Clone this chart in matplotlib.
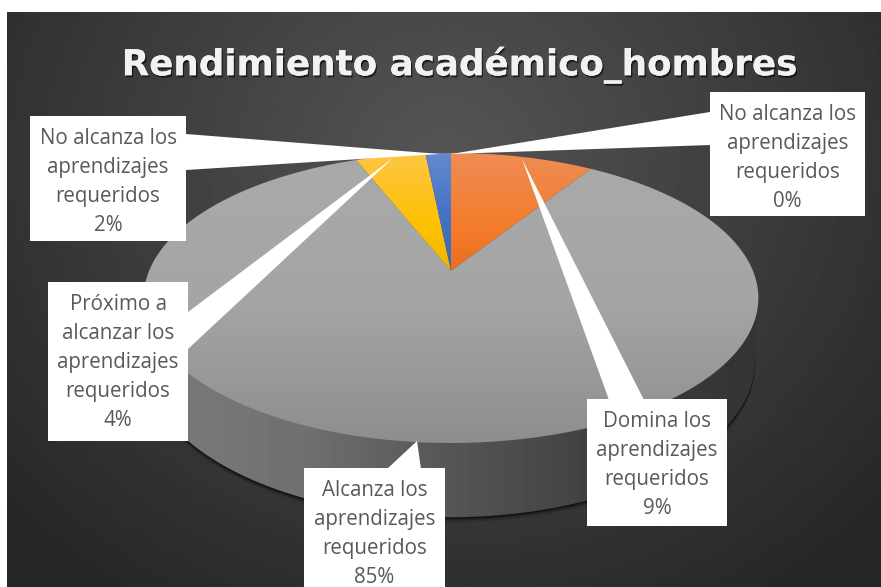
import matplotlib
matplotlib.use('Agg')
import matplotlib.pyplot as plt
import matplotlib.patheffects as pe
from matplotlib.colors import to_rgb
from matplotlib.patches import Polygon, Rectangle
from matplotlib.transforms import Affine2D
import numpy as np

plt.rcParams['font.family'] = ['Open Sans', 'DejaVu Sans']

categories = ['No alcanza los\naprendizajes\nrequeridos', 'Domina los\naprendizajes\nrequeridos',
              'Alcanza los\naprendizajes\nrequeridos', 'Próximo a\nalcanzar los\naprendizajes\nrequeridos',
              'No alcanza los\naprendizajes\nrequeridos']
values = [0.0, 9.0, 85.0, 4.4, 1.6]
title = 'Rendimiento académico_hombres'

W, H = 881, 587

# top to bottom colour stops of each slice, as (pixel y, colour)
face_stops = [
    [(150, '#a0a0a0'), (270, '#a0a0a0')],
    [(153, '#ef8c55'), (225, '#f47c2c'), (271, '#e86e1e')],
    [(180, '#a9a9a9'), (300, '#a5a5a5'), (442, '#8e8e8e')],
    [(153, '#fdc545'), (225, '#fdc100'), (271, '#ebb500')],
    [(153, '#6389cf'), (215, '#4472c4'), (271, '#3a68b8')],
]
# label box (left, top, right, bottom) and leader (tip, base point, base point)
boxes = [(710, 92, 865, 216), (587, 399, 727, 526), (304, 468, 445, 600),
         (48, 282, 188, 441), (30, 116, 186, 241)]
leaders = [((451, 154), (710, 112), (710, 145)), ((522, 159), (609, 400), (644, 400)),
           ((417, 441), (387, 469), (421, 469)), ((393, 158), (188, 312), (188, 349)),
           ((440, 154), (186, 134), (186, 170))]


def project(pts, cx, cy, a, b, k=0.186):
    # perspective view of the unit circle, tilted away from the viewer
    d = 1 + k * pts[:, 1]
    return np.column_stack([cx + a * pts[:, 0] / d, cy - b * pts[:, 1] / d])


def vertical(stops):
    ys = [s[0] for s in stops]
    rgb = np.array([to_rgb(s[1]) for s in stops])
    t = np.arange(H)
    return np.stack([np.interp(t, ys, rgb[:, i]) for i in range(3)], axis=1)[:, None, :]


fig = plt.figure(figsize=(W / 100, H / 100), dpi=100)

# pie() gives the slices on the unit circle, they get projected below
helper = fig.add_axes([0, 0, 0.1, 0.1])
wedges, _ = helper.pie(values, startangle=90, counterclock=False)
big = Affine2D().scale(1000)
unit_paths = []
for w in wedges:
    # curves get flattened in pixel units, so scale up first to keep them smooth
    tr = w.get_patch_transform() + big
    unit_paths.append(tr.transform_path(w.get_path()).to_polygons()[0] / 1000)
helper.remove()

ax = fig.add_axes([0, 0, 1, 1])
ax.axis('off')
fig.patch.set_facecolor('white')

# background
yy, xx = np.mgrid[0:H, 0:W]
dist = np.hypot((xx - 440) / 520, (yy - 150) / 470)
shade = np.interp(dist, [0, 1.15], [0.335, 0.15])
ax.imshow(shade, cmap='gray', vmin=0, vmax=1, extent=[7, W, H, 12], aspect='auto', zorder=0)

t = np.linspace(0, 2 * np.pi, 400)
circle = np.column_stack([np.sin(t), np.cos(t)])
low_rim = project(circle, 450, 331, 300, 151.6)

# soft shadow under the pie
for off, alpha in [(5, 0.12), (3, 0.25), (1.5, 0.45)]:
    ax.add_patch(Polygon(low_rim + [0, off], closed=True, fc='black', alpha=alpha, ec='none', zorder=1))

# side wall with its gradient
side_grad = np.interp(np.arange(W), [143, 190, 300, 380, 440, 600, 760],
                      [0.50, 0.47, 0.44, 0.385, 0.34, 0.25, 0.20])
side_img = ax.imshow(side_grad[None, :], cmap='gray', vmin=0, vmax=1, extent=[0, W, H, 0],
                     aspect='auto', zorder=2)
side_img.set_clip_path(Polygon(low_rim, closed=True, transform=ax.transData))

# band joining the two rims at left and right
band = ax.imshow(side_grad[None, :], cmap='gray', vmin=0, vmax=1, extent=[0, W, H, 0], aspect='auto', zorder=2)
band.set_clip_path(Polygon(np.array([[145, 290], [756, 290], [755, 360], [145, 360]]),
                           closed=True, transform=ax.transData))

# top face
for val, upath, stops in zip(values, unit_paths, face_stops):
    if val <= 0:
        continue
    poly = Polygon(project(upath, 451, 271, 302, 140), closed=True, transform=ax.transData)
    img = ax.imshow(vertical(stops), extent=[0, W, H, 0], aspect='auto', zorder=3)
    img.set_clip_path(poly)

ax.set_xlim(0, W)
ax.set_ylim(H, 0)

# label boxes
for cat, val, box, lead in zip(categories, values, boxes, leaders):
    ax.add_patch(Polygon(lead, closed=True, fc='white', ec='none', zorder=5))
    l, tp, r, b = box
    ax.add_patch(Rectangle((l, tp), r - l, b - tp, fc='white', ec='none', zorder=5))
    ax.text((l + r) / 2, tp + 12, f'{cat}\n{val:.0f}%', ha='center', va='top', fontsize=14.8,
            color='#595959', linespacing=1.5, zorder=6)

ax.text(459, 65, title, ha='center', va='center', fontsize=25.7, fontweight='bold', family='DejaVu Sans',
        color='#f2f2f2', zorder=6,
        path_effects=[pe.withSimplePatchShadow(offset=(1, -1.5), shadow_rgbFace='black', alpha=0.6), pe.Normal()])

fig.savefig('out.png', dpi=100)
